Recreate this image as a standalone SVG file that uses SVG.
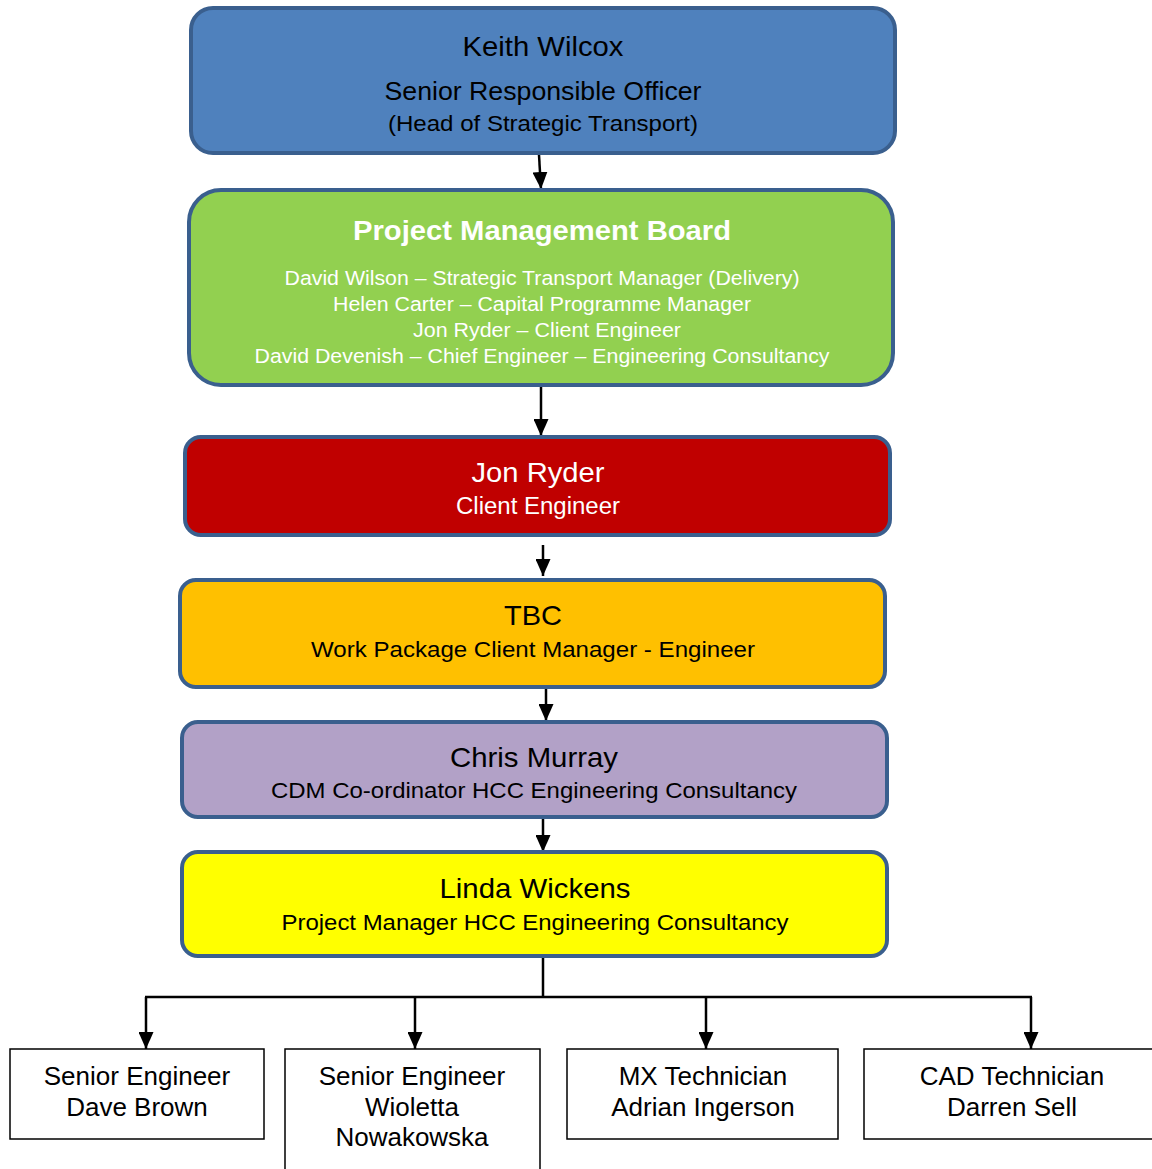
<svg xmlns="http://www.w3.org/2000/svg" width="1152" height="1169" viewBox="0 0 1152 1169">
<style>
.box{stroke:#3a5f8e;stroke-width:4}
.t{font-family:"Liberation Sans",Arial,sans-serif;text-anchor:middle}
.w{fill:#ffffff}
.k{fill:#000000}
.conn{stroke:#000;stroke-width:2.5;fill:none}
.leaf{fill:#ffffff;stroke:#000;stroke-width:1.5}
</style>
<defs>
<marker id="ah" viewBox="0 0 17 15" refX="17" refY="7.5" markerWidth="17" markerHeight="15" markerUnits="userSpaceOnUse" orient="auto">
<path d="M0,0 L17,7.5 L0,15 Z" fill="#000"/>
</marker>
</defs>
<rect width="1152" height="1169" fill="#fff"/>
<g id="connectors">
<line class="conn" x1="539" y1="155" x2="541" y2="189" marker-end="url(#ah)"/>
<line class="conn" x1="541" y1="387" x2="541" y2="436" marker-end="url(#ah)"/>
<line class="conn" x1="543" y1="545" x2="543" y2="576" marker-end="url(#ah)"/>
<line class="conn" x1="546" y1="688" x2="546" y2="721" marker-end="url(#ah)"/>
<line class="conn" x1="543" y1="819" x2="543" y2="852" marker-end="url(#ah)"/>
<polyline class="conn" points="543,958 543,997"/>
<line class="conn" x1="145" y1="997" x2="1032" y2="997"/>
<line class="conn" x1="146" y1="997" x2="146" y2="1049" marker-end="url(#ah)"/>
<line class="conn" x1="415" y1="997" x2="415" y2="1049" marker-end="url(#ah)"/>
<line class="conn" x1="706" y1="997" x2="706" y2="1049" marker-end="url(#ah)"/>
<line class="conn" x1="1031" y1="997" x2="1031" y2="1049" marker-end="url(#ah)"/>
</g>
<g id="keith">
<rect class="box" x="191" y="8" width="704" height="145" rx="22" fill="#4f81bd"/>
<text class="t k" x="543" y="56" font-size="28" textLength="161" lengthAdjust="spacingAndGlyphs">Keith Wilcox</text>
<text class="t k" x="543" y="100" font-size="25" textLength="317" lengthAdjust="spacingAndGlyphs">Senior Responsible Officer</text>
<text class="t k" x="543" y="131" font-size="22" textLength="310" lengthAdjust="spacingAndGlyphs">(Head of Strategic Transport)</text>
</g>
<g id="board">
<rect class="box" x="189" y="190" width="704" height="195" rx="32" fill="#92d050"/>
<text class="t w" x="542" y="240" font-size="27" font-weight="bold" textLength="378" lengthAdjust="spacingAndGlyphs">Project Management Board</text>
<text class="t w" x="542" y="285" font-size="20" textLength="515" lengthAdjust="spacingAndGlyphs">David Wilson – Strategic Transport Manager (Delivery)</text>
<text class="t w" x="542" y="311" font-size="20" textLength="418" lengthAdjust="spacingAndGlyphs">Helen Carter – Capital Programme Manager</text>
<text class="t w" x="547" y="337" font-size="20" textLength="268" lengthAdjust="spacingAndGlyphs">Jon Ryder – Client Engineer</text>
<text class="t w" x="542" y="363" font-size="20" textLength="575" lengthAdjust="spacingAndGlyphs">David Devenish – Chief Engineer – Engineering Consultancy</text>
</g>
<g id="jon">
<rect class="box" x="185" y="437" width="705" height="98" rx="16" fill="#c00000"/>
<text class="t w" x="538" y="482" font-size="28" textLength="133" lengthAdjust="spacingAndGlyphs">Jon Ryder</text>
<text class="t w" x="538" y="514" font-size="23" textLength="164" lengthAdjust="spacingAndGlyphs">Client Engineer</text>
</g>
<g id="tbc">
<rect class="box" x="180" y="580" width="705" height="107" rx="16" fill="#ffc000"/>
<text class="t k" x="533" y="625" font-size="28" textLength="58" lengthAdjust="spacingAndGlyphs">TBC</text>
<text class="t k" x="533" y="657" font-size="22.5" textLength="444" lengthAdjust="spacingAndGlyphs">Work Package Client Manager - Engineer</text>
</g>
<g id="chris">
<rect class="box" x="182" y="722" width="705" height="95" rx="16" fill="#b2a1c7"/>
<text class="t k" x="534" y="767" font-size="28" textLength="168" lengthAdjust="spacingAndGlyphs">Chris Murray</text>
<text class="t k" x="534" y="798" font-size="22.5" textLength="526" lengthAdjust="spacingAndGlyphs">CDM Co-ordinator HCC Engineering Consultancy</text>
</g>
<g id="linda">
<rect class="box" x="182" y="852" width="705" height="104" rx="16" fill="#ffff00"/>
<text class="t k" x="535" y="898" font-size="28" textLength="191" lengthAdjust="spacingAndGlyphs">Linda Wickens</text>
<text class="t k" x="535" y="930" font-size="22.5" textLength="507" lengthAdjust="spacingAndGlyphs">Project Manager HCC Engineering Consultancy</text>
</g>
<g id="dave">
<rect class="leaf" x="10" y="1049" width="254" height="90"/>
<text class="t k" x="137" y="1085" font-size="26">Senior Engineer</text>
<text class="t k" x="137" y="1116" font-size="26">Dave Brown</text>
</g>
<g id="wioletta">
<rect class="leaf" x="285" y="1049" width="255" height="130"/>
<text class="t k" x="412" y="1085" font-size="26">Senior Engineer</text>
<text class="t k" x="412" y="1116" font-size="26">Wioletta</text>
<text class="t k" x="412" y="1146" font-size="26">Nowakowska</text>
</g>
<g id="adrian">
<rect class="leaf" x="567" y="1049" width="271" height="90"/>
<text class="t k" x="703" y="1085" font-size="26">MX Technician</text>
<text class="t k" x="703" y="1116" font-size="26">Adrian Ingerson</text>
</g>
<g id="darren">
<rect class="leaf" x="864" y="1049" width="300" height="90"/>
<text class="t k" x="1012" y="1085" font-size="26">CAD Technician</text>
<text class="t k" x="1012" y="1116" font-size="26">Darren Sell</text>
</g>
</svg>
